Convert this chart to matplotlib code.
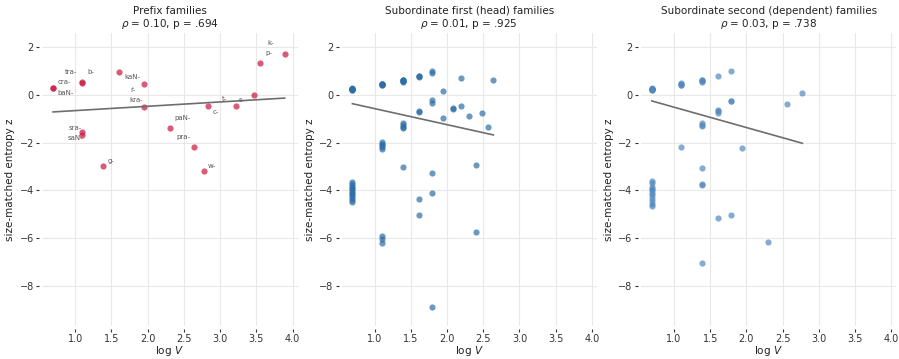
import matplotlib
matplotlib.use("Agg")
import matplotlib.pyplot as plt
import numpy as np

# prefix families: family size V, size-matched entropy z, label
prefix_labels = ["cra-", "baN-", "tra-", "b-", "sra-", "saN-", "g-", "kaN-", "ṙ-",
                 "kra-", "paN-", "pra-", "w-", "c-", "t-", "s-", "p-", "k-"]
prefix_V = [2, 2, 3, 3, 3, 3, 4, 5, 7, 7, 10, 14, 16, 17, 25, 32, 35, 49]
prefix_z = [0.28, 0.27, 0.52, 0.50, -1.56, -1.67, -3.00, 0.97, 0.44,
            -0.51, -1.39, -2.19, -3.21, -0.47, -0.47, -0.01, 1.33, 1.72]
# label offsets (points) for the prefix annotations
prefix_offsets = [(8, 4), (9, -3.6), (-8, 7.7), (6, 7.7), (-5.4, 2.6), (-4.7, -2.4),
                  (5.6, 3.6), (9, -3.8), (-7.8, -4.3), (-5.4, 5), (9.4, 7.4), (-7.4, 7.5),
                  (6.1, 4.3), (5.3, -4.1), (-8.6, 5), (-8.5, -3.9), (5.8, 7.4), (-10.3, 7.9)]

# subordinate first (head) families
head_V = ([2] * 20 + [3] * 14 + [4] * 11 + [5] * 7 + [6] * 7
          + [7] * 2 + [8] * 2 + [9] * 2 + [10, 11, 11, 12, 13, 14])
head_z = ([0.20, 0.23, 0.25, 0.28, 0.22, 0.24, 0.26, 0.21,
           -3.65, -3.72, -3.80, -3.88, -3.95, -4.02, -4.10, -4.15, -4.22, -4.30, -4.40, -4.50]
          + [0.40, 0.43, 0.46, 0.44, 0.42, 0.45,
             -1.97, -2.05, -2.12, -2.18, -2.25, -5.90, -6.05, -6.20]
          + [0.55, 0.58, 0.62, 0.60, 0.57, 0.61, -1.20, -1.27, -1.33, -1.40, -3.01]
          + [0.78, 0.75, 0.77, -0.70, -0.72, -4.38, -5.01]
          + [0.99, 0.92, -0.24, -0.35, -3.29, -4.10, -8.88]
          + [0.14, -0.97]
          + [-0.57, -0.58]
          + [0.68, -0.47]
          + [-0.90, -2.94, -5.76, -0.75, -1.35, 0.60])

# subordinate second (dependent) families
dep_V = ([2] * 19 + [3] * 5 + [4] * 11 + [5] * 5 + [6] * 4 + [7, 10, 13, 16])
dep_z = ([0.20, 0.23, 0.25, 0.28, 0.22, 0.24, 0.26, 0.21,
          -3.60, -3.70, -3.85, -3.95, -4.00, -4.10, -4.20, -4.30, -4.45, -4.55, -4.65]
         + [0.40, 0.44, 0.47, 0.42, -2.18]
         + [0.55, 0.60, 0.63, 0.58, -1.18, -1.25, -1.32, -3.07, -3.75, -3.77, -7.04]
         + [0.78, -0.62, -0.70, -0.78, -5.14]
         + [0.99, -0.26, -0.28, -5.03]
         + [-2.24, -6.15, -0.375, 0.07])

# fitted regression lines as drawn in the chart (z = intercept + slope * log V)
fit_slope = [0.181, -0.671, -0.851]
fit_intercept = [-0.845, 0.090, 0.330]

titles = ["Prefix families\n$\\rho$ = 0.10, p = .694",
          "Subordinate first (head) families\n$\\rho$ = 0.01, p = .925",
          "Subordinate second (dependent) families\n$\\rho$ = 0.03, p = .738"]
colors = ["#c8163f", "#2e6ea6", "#5289bd"]

fig = plt.figure(figsize=(8.99, 3.59), dpi=100)
lefts = [0.047, 0.380, 0.713]
axes = [fig.add_axes([l, 0.092, 0.284, 0.816]) for l in lefts]

data = [(prefix_V, prefix_z), (head_V, head_z), (dep_V, dep_z)]
for i, (ax, (V, z), title, col) in enumerate(zip(axes, data, titles, colors)):
    x = np.log(np.array(V, dtype=float))
    y = np.array(z)
    ax.scatter(x, y, s=20, color=col, alpha=0.7, linewidths=0, zorder=3)
    xs = np.array([x.min(), x.max()])
    ax.plot(xs, fit_intercept[i] + fit_slope[i] * xs, color="#6e6e6e", lw=1.2, zorder=4)

    ax.set_xlim(0.544, 4.07)
    ax.set_ylim(-9.67, 2.58)
    ax.set_xticks([1.0, 1.5, 2.0, 2.5, 3.0, 3.5, 4.0])
    ax.set_yticks([2, 0, -2, -4, -6, -8])
    ax.grid(True, color="#e8e8e8", lw=0.8, zorder=0)
    ax.set_axisbelow(True)
    for side in ["top", "right", "left", "bottom"]:
        ax.spines[side].set_position(("outward", 2))
        ax.spines[side].set_visible(False)
    ax.tick_params(labelsize=7, length=2.5, width=0.8, color="#333333",
                   labelcolor="#333333", pad=1.5)
    ax.set_title(title, fontsize=7.5, color="#222222", pad=4, linespacing=1.15)
    ax.set_xlabel(r"$\log\,V$", fontsize=7.5, color="#222222", labelpad=0)
    ax.set_ylabel("size-matched entropy z", fontsize=7.5, color="#222222", labelpad=3)

# labels for the prefix points
px = np.log(np.array(prefix_V, dtype=float))
for lab, xi, yi, off in zip(prefix_labels, px, prefix_z, prefix_offsets):
    axes[0].annotate(lab, (xi, yi), xytext=off, textcoords="offset points",
                     fontsize=5, color="#555555", ha="center", va="center", zorder=5)

fig.savefig("out.png", dpi=100, facecolor="white")
